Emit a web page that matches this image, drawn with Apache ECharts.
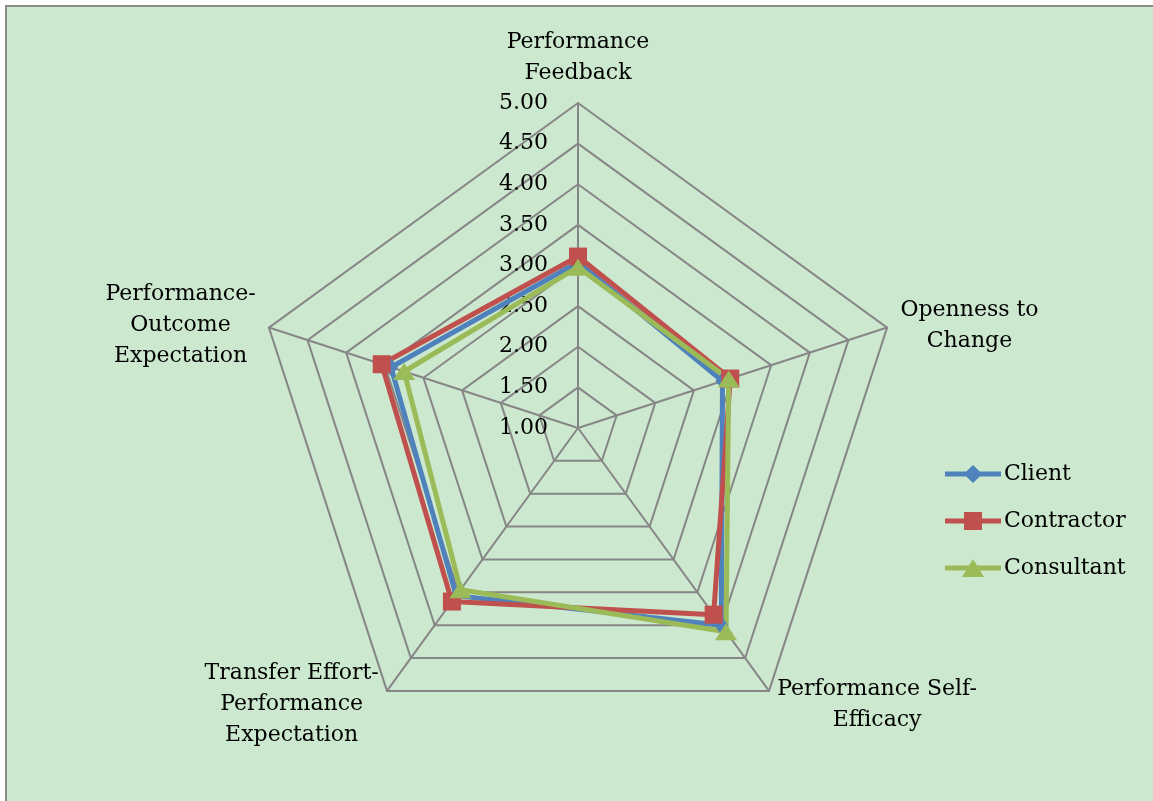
<!DOCTYPE html>
<html>
<head>
<meta charset="utf-8">
<script src="https://cdn.jsdelivr.net/npm/echarts@6/dist/echarts.min.js"></script>
<style>
html,body{margin:0;padding:0;background:#ffffff;}
#bg{position:absolute;left:5px;top:5px;width:1148px;height:796px;background:#CCE8CF;border-left:2px solid #8a8a8a;border-top:2px solid #8a8a8a;box-sizing:border-box;}
#chart{position:absolute;left:0;top:0;width:1153px;height:801px;}
</style>
</head>
<body>
<div id="bg"></div>
<div id="chart"></div>
<script>
// Categories in clockwise order starting at the top
const categories = ['Performance\nFeedback', 'Openness to\nChange', 'Performance Self-\nEfficacy', 'Transfer Effort-\nPerformance\nExpectation', 'Performance-\nOutcome\nExpectation'];
const seriesNames = ['Client', 'Contractor', 'Consultant'];
const clientValues = [3.04, 2.87, 4.00, 3.55, 3.42];
const contractorValues = [3.11, 2.97, 3.84, 3.64, 3.54];
const consultantValues = [2.98, 2.95, 4.10, 3.46, 3.25];
const axisMin = 1;
const axisMax = 5;
const axisSplits = 8;

const colors = ['#4F81BD', '#C0504D', '#9BBB59'];
const FONT = 'DejaVu Serif';

// ECharts radar runs counter-clockwise; reorder to make it clockwise
const order = [0, 4, 3, 2, 1];
const reorder = arr => order.map(i => arr[i]);

const indicator = reorder(categories).map((name, i) => {
  const o = { name: name, min: axisMin, max: axisMax };
  if (i === 0) o.axisLabel = { show: true };
  return o;
});

const legendIcons = [
  'path://M0 6.5 L21.3 6.5 L28 0 L34.7 6.5 L56 6.5 L56 11.5 L34.7 11.5 L28 18 L21.3 11.5 L0 11.5 Z',
  'path://M0 6.5 L19 6.5 L19 0 L37 0 L37 6.5 L56 6.5 L56 11.5 L37 11.5 L37 18 L19 18 L19 11.5 L0 11.5 Z',
  'path://M0 6.5 L24 6.5 L28 0 L32 6.5 L56 6.5 L56 11.5 L35.1 11.5 L39 18 L17 18 L20.9 11.5 L0 11.5 Z'
];

const chart = echarts.init(document.getElementById('chart'));
const values = [clientValues, contractorValues, consultantValues];
const symbols = ['diamond', 'rect', 'triangle'];
const symbolSizes = [[14, 18], 18, [22, 17]];

chart.setOption({
  animation: false,
  backgroundColor: 'transparent',
  legend: {
    orient: 'vertical',
    left: 940,
    top: 458,
    itemWidth: 56,
    itemHeight: 18,
    itemGap: 25,
    data: seriesNames.map((n, i) => ({ name: n, icon: legendIcons[i] })),
    textStyle: { color: '#000', fontFamily: FONT, fontSize: 22, lineHeight: 22, padding: [0, 0, 0, -2] }
  },
  radar: {
    center: [578, 428],
    radius: 325,
    startAngle: 90,
    shape: 'polygon',
    splitNumber: axisSplits,
    nameGap: 14,
    axisName: {
      color: '#000',
      fontFamily: FONT,
      fontSize: 22,
      padding: [5, 0, 0, 0],
      formatter: function (name) {
        return name.split('\n').map(s => '{c|' + s + '}').join('\n');
      },
      rich: {
        c: { align: 'center', fontFamily: FONT, fontSize: 22, lineHeight: 31, color: '#000' }
      }
    },
    axisLine: { lineStyle: { color: '#868686', width: 2 } },
    splitLine: { lineStyle: { color: '#868686', width: 2 } },
    splitArea: { show: false },
    axisTick: { show: false },
    axisLabel: {
      show: false,
      color: '#000',
      fontFamily: FONT,
      fontSize: 22,
      margin: 30,
      formatter: v => Number(v).toFixed(2)
    },
    indicator: indicator
  },
  series: [{
    type: 'radar',
    data: seriesNames.map((n, i) => ({
      name: n,
      value: reorder(values[i]),
      symbol: symbols[i],
      symbolSize: symbolSizes[i],
      lineStyle: { color: colors[i], width: 5 },
      itemStyle: { color: colors[i], opacity: 1 },
      z: i
    }))
  }]
});
</script>
</body>
</html>
